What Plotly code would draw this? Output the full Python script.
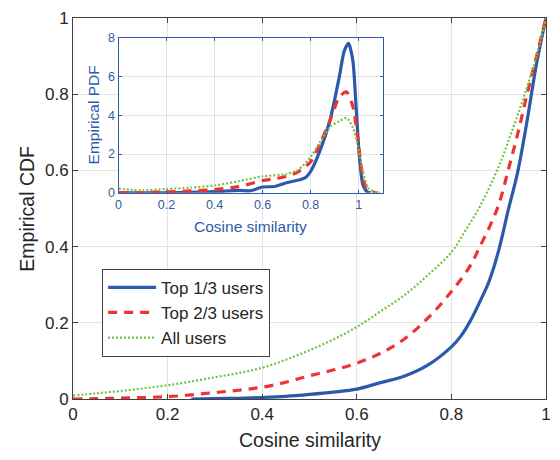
import plotly.graph_objects as go

# ---- Empirical CDF of cosine similarity (main axes) ----
cdf_top13_x = [0.25, 0.3, 0.35, 0.4, 0.45, 0.5, 0.55, 0.6, 0.65, 0.7, 0.75, 0.8,
               0.82, 0.84, 0.86, 0.88, 0.9, 0.92, 0.94, 0.96, 0.98, 1.0]
cdf_top13_y = [0.0, 0.001, 0.002, 0.004, 0.007, 0.012, 0.018, 0.026, 0.043, 0.06, 0.089, 0.137,
               0.165, 0.205, 0.255, 0.31, 0.39, 0.495, 0.595, 0.73, 0.88, 1.0]

cdf_top23_x = [0.0, 0.05, 0.1, 0.15, 0.2, 0.25, 0.3, 0.35, 0.4, 0.45, 0.5, 0.55, 0.6, 0.65,
               0.7, 0.75, 0.8, 0.84, 0.86, 0.88, 0.9, 0.92, 0.94, 0.96, 0.98, 1.0]
cdf_top23_y = [0.0, 0.001, 0.002, 0.004, 0.006, 0.011, 0.017, 0.023, 0.031, 0.044, 0.061, 0.076,
               0.094, 0.12, 0.157, 0.212, 0.282, 0.35, 0.4, 0.45, 0.51, 0.6, 0.695, 0.8, 0.9, 1.0]

cdf_all_x = [0.0, 0.05, 0.1, 0.15, 0.2, 0.25, 0.3, 0.35, 0.4, 0.45, 0.5, 0.55, 0.6, 0.65,
             0.7, 0.75, 0.8, 0.83, 0.86, 0.9, 0.93, 0.955, 0.98, 1.0]
cdf_all_y = [0.009, 0.015, 0.021, 0.028, 0.036, 0.046, 0.057, 0.068, 0.082, 0.103, 0.128, 0.156,
             0.189, 0.23, 0.272, 0.325, 0.385, 0.443, 0.505, 0.61, 0.71, 0.8, 0.9, 1.0]

# ---- Empirical PDF (inset axes) ----
pdf_top13_x = [0.0, 0.1, 0.2, 0.3, 0.4, 0.5, 0.55, 0.6, 0.65, 0.7, 0.75, 0.78, 0.8, 0.84, 0.88,
               0.92, 0.94, 0.958, 0.976, 0.99, 1.004, 1.018, 1.035, 1.05]
pdf_top13_y = [0.0, 0.0, 0.0, 0.03, 0.06, 0.13, 0.11, 0.3, 0.33, 0.52, 0.66, 0.8, 1.1, 2.2, 3.7,
               6.0, 7.3, 7.7, 6.8, 4.3, 1.76, 0.42, 0.06, 0.0]

pdf_top23_x = [0.0, 0.1, 0.2, 0.3, 0.4, 0.5, 0.6, 0.65, 0.7, 0.75, 0.8, 0.842, 0.885, 0.92,
               0.949, 0.976, 0.997, 1.014, 1.032, 1.06, 1.08]
pdf_top23_y = [0.01, 0.02, 0.05, 0.1, 0.17, 0.32, 0.63, 0.73, 0.85, 1.1, 1.6, 2.6, 3.86, 4.95,
               5.2, 4.45, 2.77, 1.09, 0.25, 0.03, 0.0]

pdf_all_x = [0.0, 0.05, 0.1, 0.2, 0.3, 0.4, 0.5, 0.6, 0.7, 0.75, 0.8, 0.842, 0.885, 0.92,
             0.949, 0.976, 0.997, 1.018, 1.04, 1.068, 1.09]
pdf_all_y = [0.22, 0.16, 0.13, 0.2, 0.27, 0.38, 0.6, 0.85, 0.97, 1.2, 1.85, 2.68, 3.44, 3.69,
             3.86, 3.36, 2.43, 1.09, 0.25, 0.05, 0.0]

series_names = ["Top 1/3 users", "Top 2/3 users", "All users"]
main_ticks = [0, 0.2, 0.4, 0.6, 0.8, 1]
main_tick_text = ["0", "0.2", "0.4", "0.6", "0.8", "1"]
inset_xticks = [0, 0.2, 0.4, 0.6, 0.8, 1]
inset_yticks = [0, 2, 4, 6, 8]

BLUE = "#2b5aab"
RED = "#f03232"
GREEN = "#72c243"
AX = "#404040"
TXT = "#262626"
INSET = "#2f5ca8"
FONT = "Liberation Sans, Arial, Helvetica, sans-serif"

styles = [
    dict(color=BLUE, width=3.2, dash="solid"),
    dict(color=RED, width=3.2, dash="9px,7px"),
    dict(color=GREEN, width=2.2, dash="2px,2px"),
]

fig = go.Figure()

cdfs = [(cdf_top13_x, cdf_top13_y), (cdf_top23_x, cdf_top23_y), (cdf_all_x, cdf_all_y)]
for (xs, ys), name, st in zip(cdfs, series_names, styles):
    fig.add_trace(go.Scatter(x=xs, y=ys, mode="lines", name=name,
                             line=dict(shape="spline", smoothing=1.0, **st),
                             xaxis="x", yaxis="y"))

pdfs = [(pdf_top13_x, pdf_top13_y), (pdf_top23_x, pdf_top23_y), (pdf_all_x, pdf_all_y)]
for (xs, ys), name, st in zip(pdfs, series_names, styles):
    fig.add_trace(go.Scatter(x=xs, y=ys, mode="lines", name=name, showlegend=False,
                             line=dict(shape="spline", smoothing=0.7, **st),
                             xaxis="x2", yaxis="y2", cliponaxis=True))

W, H = 560, 460
L, R, T, B = 73.3, 9.0, 9.3, 60.7
pw, ph = W - L - R, H - T - B


def px_to_paper_x(px):
    return (px - L) / pw


def px_to_paper_y(py):
    return (H - B - py) / ph


main_axis = dict(
    range=[0, 1], showline=True, linecolor=AX, linewidth=1, mirror="ticks",
    ticks="inside", ticklen=5, tickcolor=AX, tickwidth=1,
    showgrid=True, gridcolor="#e4e4e4", gridwidth=1, zeroline=False,
    tickvals=main_ticks, ticktext=main_tick_text,
    tickfont=dict(family=FONT, size=17, color=TXT),
)

inset_axis = dict(
    showline=True, linecolor=INSET, linewidth=1.2, mirror="ticks",
    ticks="inside", ticklen=3, tickcolor=INSET, tickwidth=1,
    showgrid=True, gridcolor="#dfe2f0", gridwidth=1, zeroline=False,
    tickfont=dict(family=FONT, size=12.5, color=INSET),
)

fig.update_layout(
    width=W, height=H,
    margin=dict(l=L, r=R, t=T, b=B, pad=0),
    paper_bgcolor="white", plot_bgcolor="white",
    font=dict(family=FONT, color=TXT),
    xaxis=dict(domain=[0, 1], anchor="y", **main_axis),
    yaxis=dict(domain=[0, 1], anchor="x", **main_axis),
    xaxis2=dict(domain=[px_to_paper_x(119.3), px_to_paper_x(386)], anchor="y2",
                range=[0, 1.1], tickvals=inset_xticks,
                ticktext=["0", "0.2", "0.4", "0.6", "0.8", "1"], **inset_axis),
    yaxis2=dict(domain=[px_to_paper_y(188.3), px_to_paper_y(29.3)], anchor="x2",
                range=[0, 8], tickvals=inset_yticks, **inset_axis),
    legend=dict(x=px_to_paper_x(102.7), y=px_to_paper_y(266), xanchor="left", yanchor="top",
                bgcolor="white", bordercolor=AX, borderwidth=1, itemwidth=48,
                font=dict(family=FONT, size=17, color=TXT), tracegroupgap=0),
    showlegend=True,
)

# axis titles
fig.add_annotation(text="Cosine similarity", xref="paper", yref="paper",
                   x=0.5, y=px_to_paper_y(441), xanchor="center", yanchor="middle",
                   showarrow=False, font=dict(family=FONT, size=19.5, color=TXT))
fig.add_annotation(text="Empirical CDF", xref="paper", yref="paper",
                   x=px_to_paper_x(26), y=0.5, xanchor="center", yanchor="middle",
                   textangle=-90, showarrow=False, font=dict(family=FONT, size=19.5, color=TXT))
fig.add_annotation(text="Cosine similarity", xref="paper", yref="paper",
                   x=px_to_paper_x(252.7), y=px_to_paper_y(223), xanchor="center", yanchor="middle",
                   showarrow=False, font=dict(family=FONT, size=15.5, color=INSET))
fig.add_annotation(text="Empirical PDF", xref="paper", yref="paper",
                   x=px_to_paper_x(93.5), y=px_to_paper_y(109), xanchor="center", yanchor="middle",
                   textangle=-90, showarrow=False, font=dict(family=FONT, size=15.5, color=INSET))

fig.write_html("out.html")
